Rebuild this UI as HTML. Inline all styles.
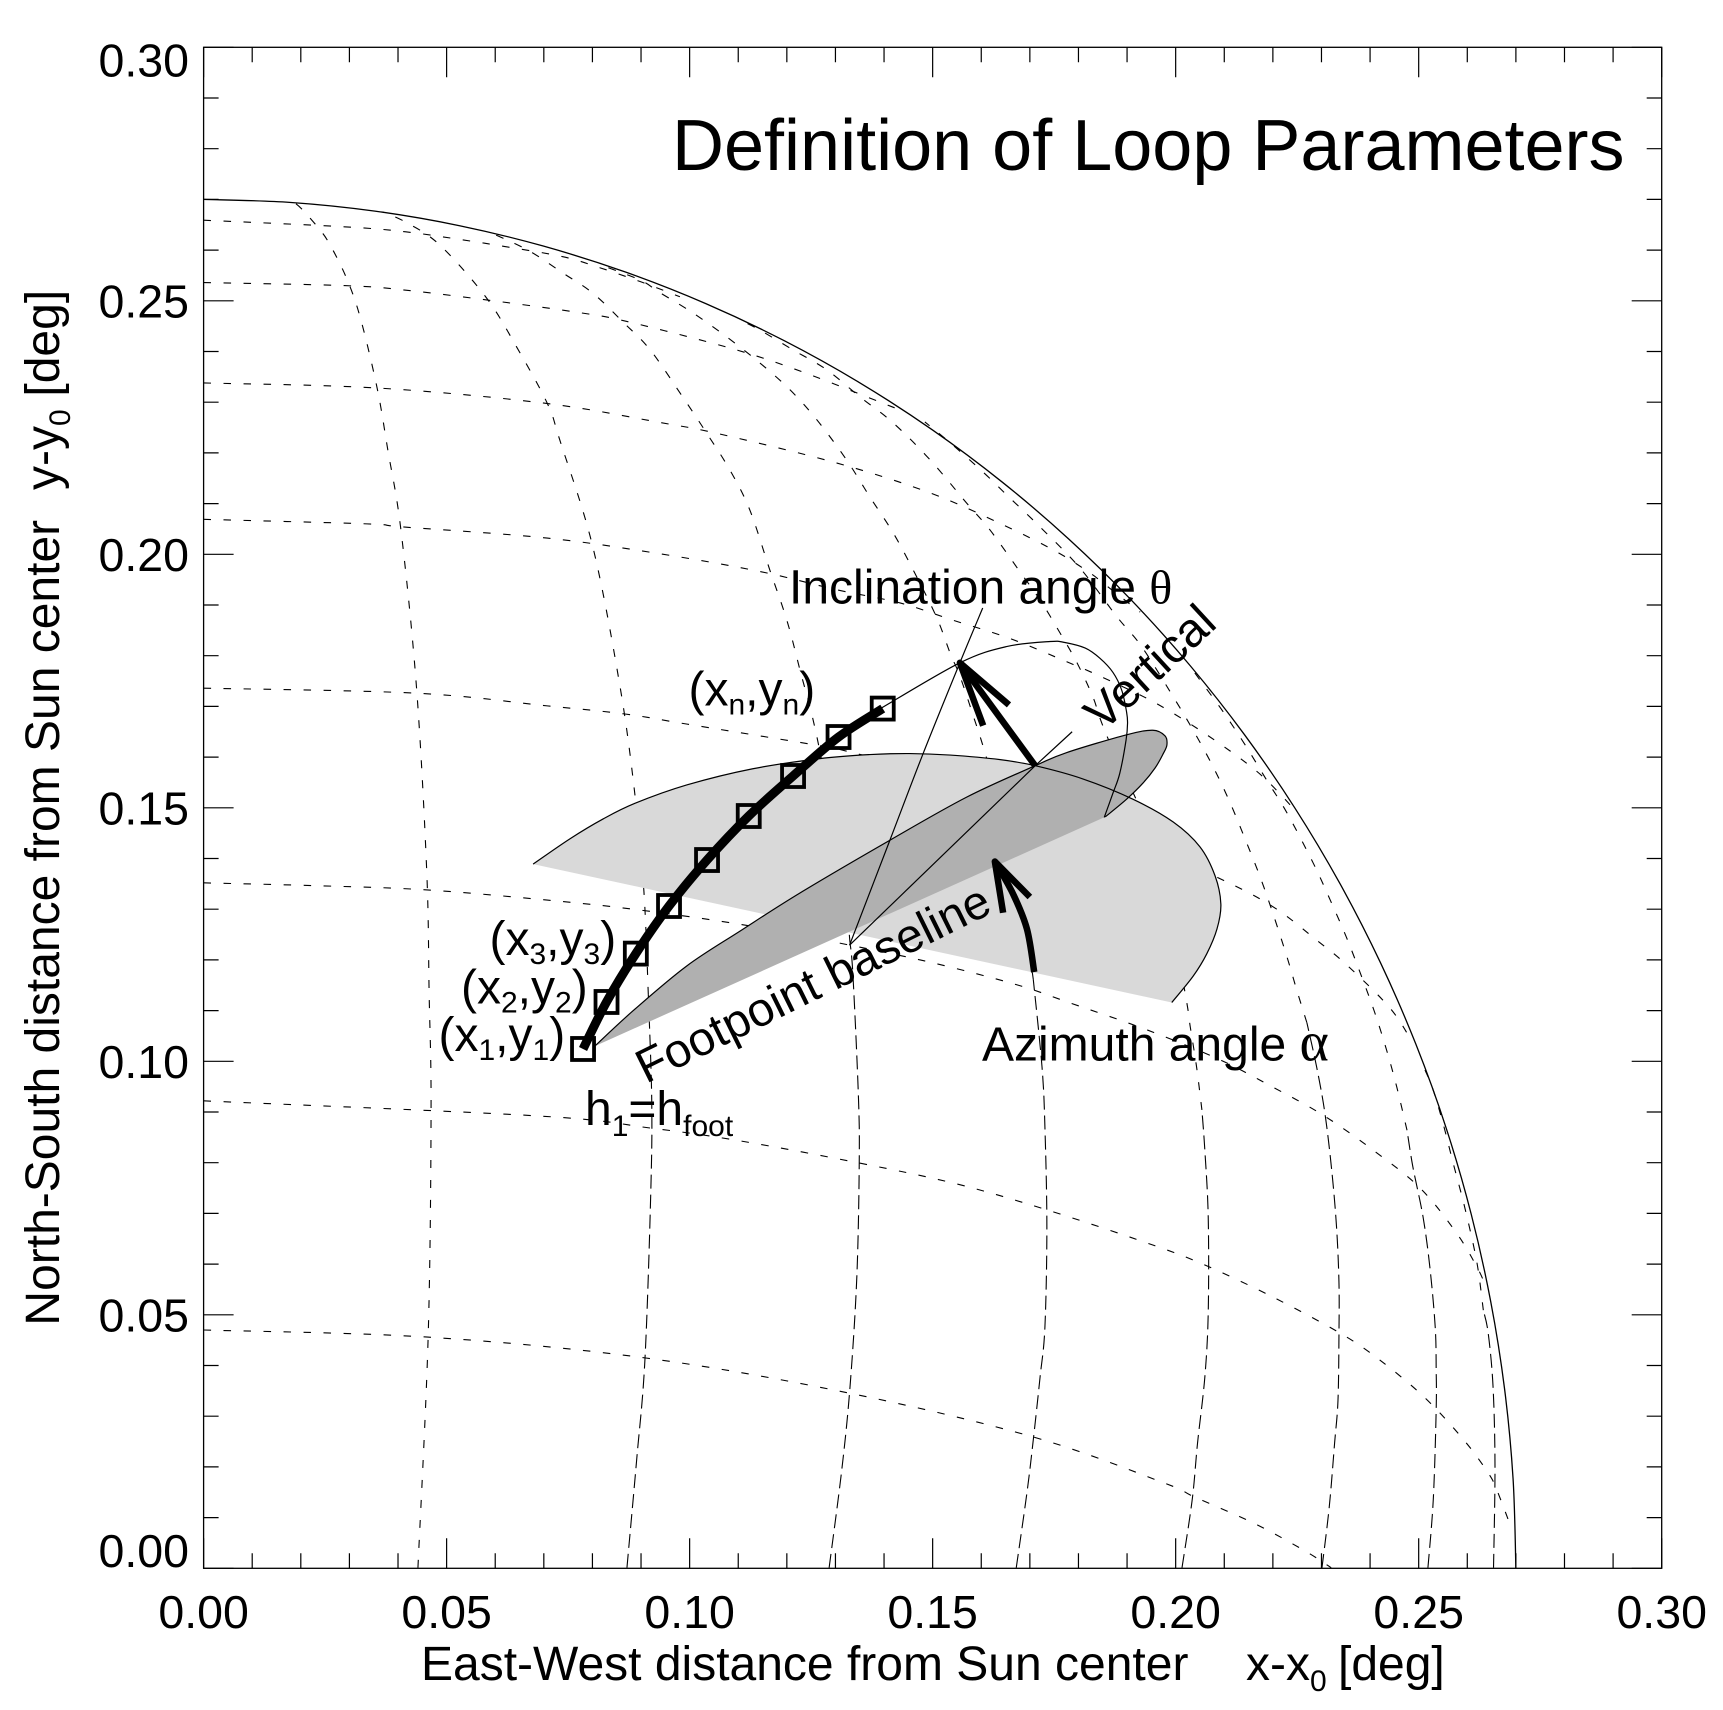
<!DOCTYPE html>
<html lang="en">
<head>
<meta charset="utf-8">
<title>Definition of Loop Parameters</title>
<style>
html,body{margin:0;padding:0;background:#fff;}
svg{display:block;}
text{font-family:"Liberation Sans",sans-serif;fill:#000;}
.ann{font-size:48px;}
.tick{font-size:46.5px;}
.sym{font-family:"Liberation Serif",serif;}
</style>
</head>
<body>
<svg id="chart" width="1723" height="1710" viewBox="0 0 1723 1710" xmlns="http://www.w3.org/2000/svg">
<rect x="0" y="0" width="1723" height="1710" fill="#fff"/>
<g id="grid"></g>
<g id="surface"></g>
<g id="axes"></g>
<g id="loop"></g>

<text x="672" y="170" font-size="72">Definition of Loop Parameters</text>
<text y="1680" font-size="48"><tspan x="421">East-West distance from Sun center</tspan><tspan x="1246">x-x</tspan><tspan dy="11" font-size="30">0</tspan><tspan x="1338" dy="-11">[deg]</tspan></text>
<text transform="translate(59,1325.6) rotate(-90)" font-size="48"><tspan x="0" y="0">North-South distance from Sun center</tspan><tspan x="835.6">y-y</tspan><tspan dy="11" font-size="30">0</tspan><tspan x="929" dy="-11">[deg]</tspan></text>

<text class="ann" x="438.5" y="1051">(x<tspan dy="9" font-size="30">1</tspan><tspan dy="-9">,y</tspan><tspan dy="9" font-size="30">1</tspan><tspan dy="-9">)</tspan></text>
<text class="ann" x="461" y="1003.5">(x<tspan dy="9" font-size="30">2</tspan><tspan dy="-9">,y</tspan><tspan dy="9" font-size="30">2</tspan><tspan dy="-9">)</tspan></text>
<text class="ann" x="489.5" y="955">(x<tspan dy="9" font-size="30">3</tspan><tspan dy="-9">,y</tspan><tspan dy="9" font-size="30">3</tspan><tspan dy="-9">)</tspan></text>
<text class="ann" x="688.5" y="705.3">(x<tspan dy="9" font-size="30">n</tspan><tspan dy="-9">,y</tspan><tspan dy="9" font-size="30">n</tspan><tspan dy="-9">)</tspan></text>
<text class="ann" x="585" y="1125">h<tspan dy="11" font-size="30">1</tspan><tspan dy="-11">=h</tspan><tspan dy="11" font-size="30">foot</tspan></text>
<text class="ann" x="789" y="603.3">Inclination angle <tspan class="sym">θ</tspan></text>
<text class="ann" x="982" y="1060.5">Azimuth angle <tspan class="sym" font-size="56">α</tspan></text>
<text font-size="47.5" transform="translate(646,1084) rotate(-26.3)">Footpoint baseline</text>
<text class="ann" transform="translate(1103,732.5) rotate(-42.7)">Vertical</text>

<script>
// ---- axis domains and ticks ----
var xDomain = [0, 0.30];
var yDomain = [0, 0.30];
var xTickValues = [0.00, 0.05, 0.10, 0.15, 0.20, 0.25, 0.30];
var yTickValues = [0.00, 0.05, 0.10, 0.15, 0.20, 0.25, 0.30];
var xTickLabels = ["0.00", "0.05", "0.10", "0.15", "0.20", "0.25", "0.30"];
var yTickLabels = ["0.00", "0.05", "0.10", "0.15", "0.20", "0.25", "0.30"];
var minorTickStep = 0.01;

// ---- solar limb ----
var limbX = [0,.01766,.03524,.05267,.06988,.08679,.10333,.11942,.135,.15,.16437,.17802,.19092,.203,.2142,.2245,.23383,.24215,.24944,.25567,.2608,.26481,.26769,.26942,.27];
var limbY = [.27,.26942,.26769,.26481,.2608,.25567,.24944,.24215,.23383,.2245,.2142,.203,.19092,.17802,.16437,.15,.135,.11942,.10333,.08679,.06988,.05267,.03524,.01766,0];

// ---- meridians ----
var m1X = [.0441,.0462,.0468,.0464,.0459,.0438,.0406,.0379,.0357,.0322,.0293,.0258,.0235,.0202,.0185];
var m1Y = [.0001,.0456,.09,.1135,.1377,.1738,.2048,.2206,.2328,.2468,.2547,.2614,.2645,.2681,.2695];
var m2X = [.0871,.0891,.0908,.092,.0922,.0915,.0906,.0888,.0857,.0801,.0733,.0707,.0644,.0581,.0486,.0416,.0369];
var m2Y = [.0001,.0214,.0411,.074,.0924,.1131,.1334,.1521,.1738,.2014,.2225,.2298,.2409,.2507,.261,.2655,.2675];
var m3X = [.1287,.1313,.133,.1344,.1349,.1347,.1336,.133,.1316,.1264,.1227,.12,.1165,.1124,.1083,.1035,.0986,.0919,.0863,.0801,.0739,.0667,.0589];
var m3Y = [.0001,.0194,.0358,.0575,.0805,.0938,.117,.1234,.1357,.163,.1772,.187,.1969,.2087,.2166,.2239,.231,.2403,.2458,.2515,.2555,.26,.2635];
var m4X = [.1672,.1694,.1707,.1721,.1731,.1735,.1731,.1725,.1707,.167,.1611,.1583,.1556,.1536,.1508,.146,.1419,.1371,.1323,.1262,.1207,.1145,.1076,.1007,.0939,.0898,.0816];
var m4Y = [.0001,.0149,.0253,.0377,.0476,.0673,.087,.0989,.1162,.1397,.1598,.1683,.176,.1805,.1876,.1969,.2042,.2113,.2186,.2265,.2324,.2377,.2429,.2476,.2516,.2541,.2571];
var m5X = [.2013,.2034,.2045,.206,.2067,.2067,.206,.2054,.2043,.203,.2019,.1968,.1858,.183,.1797,.1762,.1721,.168,.1618,.157,.1495,.1419,.1351,.1282,.1213,.1145,.1104];
var m5Y = [.0001,.0135,.0247,.0377,.0504,.0693,.0825,.0904,.0989,.1068,.1137,.1397,.1643,.1718,.1786,.1845,.191,.1965,.2048,.2101,.2186,.2259,.231,.2364,.2403,.2442,.2462];
var m6X = [.2301,.2316,.2327,.2334,.2336,.2336,.2331,.2321,.2307,.229,.227,.2249,.2229,.22,.2174,.2146,.2112,.2077,.2036,.1995,.193,.1879,.1803,.1721,.1659,.1604,.1536,.1484];
var m6Y = [.0001,.0121,.0247,.0332,.0464,.0563,.0673,.0786,.0898,.0989,.1076,.1141,.1206,.1292,.1363,.1431,.151,.1581,.1653,.1719,.1818,.1877,.1973,.2054,.2111,.2162,.222,.2261];
var m7X = [.2519,.253,.2536,.2536,.2534,.2523,.2509,.2488,.2476,.2455,.2434,.241,.2383,.2352,.2318,.2283,.2229,.2187,.2143,.2098,.205,.203];
var m7Y = [.0001,.0135,.0312,.0391,.0476,.0594,.0693,.0792,.0864,.0949,.1022,.1095,.1166,.1243,.1318,.1391,.149,.1555,.1624,.1689,.1752,.1779];
var m8X = [.2654,.2657,.2653,.2643,.2633,.262,.2596,.2571,.255,.253,.2513];
var m8Y = [.0001,.02,.0358,.0464,.0509,.0602,.0707,.0799,.0878,.0943,.0983];

// ---- parallels ----
var p1X = [0,.0461,.0908,.1326,.1707,.1977,.2038,.2165,.227,.232];
var p1Y = [.047,.0456,.0415,.0346,.0259,.0168,.0141,.0087,.0032,.0001];
var p2X = [0,.0692,.0922,.1104,.1351,.155,.1735,.194,.2056,.22,.2338,.2417,.2511,.2593,.2643,.2661,.2692];
var p2Y = [.0922,.0892,.0868,.0843,.0799,.0758,.0707,.0642,.06,.0535,.0464,.0413,.0338,.0253,.0188,.0154,.0076];
var p3X = [0,.0246,.046,.0707,.0892,.1118,.133,.1501,.1673,.1783,.1941,.2091,.22,.2303,.2406,.2503,.2578,.262,.2637];
var p3Y = [.1352,.1346,.1338,.1318,.1299,.1268,.1229,.1194,.1151,.1115,.1062,.1003,.0949,.0894,.0825,.075,.0661,.0594,.0559];
var p4X = [0,.0439,.0707,.0867,.0995,.1264,.133,.1639,.1844,.2085,.22,.229,.2352,.2441,.2488];
var p4Y = [.1736,.1726,.1701,.1685,.1665,.1623,.161,.1535,.1466,.1363,.1305,.1239,.119,.1105,.1036];
var p5X = [0,.0336,.041,.0707,.0939,.1145,.1303,.1433,.1542,.1659,.1776,.1848,.1958,.2064,.2163,.2221,.2249];
var p5Y = [.2069,.206,.2054,.2032,.2001,.1966,.193,.1904,.187,.1834,.1788,.1758,.1707,.1644,.1575,.1521,.149];
var p6X = [0,.0357,.0702,.0939,.1063,.1303,.1495,.1645,.1755,.1824,.1851,.1927];
var p6Y = [.2338,.2328,.2298,.226,.2237,.218,.2121,.2058,.2005,.1963,.1943,.1886];
var p7X = [0,.0289,.0416,.0612,.0778,.0863,.1021,.1138,.1254,.1371,.1443];
var p7Y = [.2536,.253,.2521,.2498,.2476,.2461,.2423,.2391,.2352,.2308,.2281];
var p8X = [0,.0289,.0416,.0534,.062,.0739,.0816,.0898,.098];
var p8Y = [.2659,.2646,.2636,.262,.2607,.2587,.2565,.2538,.2508];

// ---- shaded planes ----
var azimuthPlaneX = [.0678,.0754,.0822,.0888,.0994,.113,.1268,.1371,.1453,.1536,.1639,.1711,.1809,.1912,.1995,.205,.2081,.2093,.2085,.2064,.2036,.1992];
var azimuthPlaneY = [.1389,.1439,.1478,.1509,.1545,.1577,.1597,.1605,.1607,.1604,.1595,.1583,.1557,.1517,.1472,.1423,.1366,.131,.1261,.1212,.1168,.1116];
var loopPlaneX = [.0805,.0884,.0994,.1104,.1227,.1412,.157,.1711,.1776,.1899,.1953,.1978,.1982,.1974,.1958,.1933,.1899,.1855];
var loopPlaneY = [.103,.11,.1188,.1257,.1332,.1436,.1521,.1583,.1609,.1644,.1653,.1642,.1624,.1606,.1579,.1549,.1517,.1482];

// ---- loop ----
var loopPointsX = [.07807,.0829,.08893,.09576,.10358,.11216,.12128,.13064,.13973];
var loopPointsY = [.10243,.1117,.12124,.13063,.1397,.14838,.15627,.16396,.16957];
var loopBackX = [.1395,.1556,.1652,.1742,.1772,.1814,.1844,.1871,.1889,.1899,.1901,.1898,.1885,.1871,.1853];
var loopBackY = [.1697,.1786,.1818,.1828,.1826,.1815,.1795,.1767,.1732,.1689,.1667,.1634,.1568,.1529,.1481];

// ---- construction lines and arrows ----
var inclinationLineX = [.1329,.1412,.148,.1556,.1603];
var inclinationLineY = [.1229,.1436,.1606,.1786,.1894];
var verticalLineX = [.1329,.1711,.1787];
var verticalLineY = [.1229,.1583,.165];
var inclinationArrowX = [.1711,.1556];
var inclinationArrowY = [.1583,.1786];
var inclinationHeadX = [.1604,.1556,.1657];
var inclinationHeadY = [.1662,.1786,.1703];
var azimuthArrowX = [.1709,.1694,.1665,.1628];
var azimuthArrowY = [.1176,.1261,.1331,.1394];
var azimuthHeadX = [.1645,.1628,.17];
var azimuthHeadY = [.1293,.1394,.1324];

// ---- axis functions ----
var plotLeft = 203.6, plotRight = 1661.7, plotTop = 47.3, plotBottom = 1568.3;
function sx(v){ return plotLeft + (v - xDomain[0]) / (xDomain[1] - xDomain[0]) * (plotRight - plotLeft); }
function sy(v){ return plotBottom - (v - yDomain[0]) / (yDomain[1] - yDomain[0]) * (plotBottom - plotTop); }

var NS = 'http://www.w3.org/2000/svg';
function make(tag, parent, attrs){
  var el = document.createElementNS(NS, tag);
  for (var k in attrs) el.setAttribute(k, attrs[k]);
  parent.appendChild(el);
  return el;
}
function toPts(xs, ys){
  var out = [];
  for (var i = 0; i < xs.length; i++) out.push([sx(xs[i]), sy(ys[i])]);
  return out;
}
function smooth(xs, ys){
  var p = toPts(xs, ys);
  var d = 'M' + p[0][0].toFixed(2) + ' ' + p[0][1].toFixed(2);
  for (var i = 0; i < p.length - 1; i++){
    var a = p[i > 0 ? i - 1 : i], b = p[i], c = p[i + 1], e = p[i + 2 < p.length ? i + 2 : i + 1];
    d += 'C' + (b[0] + (c[0] - a[0]) / 6).toFixed(2) + ' ' + (b[1] + (c[1] - a[1]) / 6).toFixed(2) + ' ' +
         (c[0] - (e[0] - b[0]) / 6).toFixed(2) + ' ' + (c[1] - (e[1] - b[1]) / 6).toFixed(2) + ' ' +
         c[0].toFixed(2) + ' ' + c[1].toFixed(2);
  }
  return d;
}
function straight(xs, ys){
  var p = toPts(xs, ys), d = '';
  for (var i = 0; i < p.length; i++) d += (i ? 'L' : 'M') + p[i][0].toFixed(2) + ' ' + p[i][1].toFixed(2);
  return d;
}

// ---- grid ----
var gridLayer = document.getElementById('grid');
var LONG_DASH = '14 6';
var SHORT_DASH = '8 12';
var meridianSeries = [
  [m1X,m1Y,'meridian-1',0],[m2X,m2Y,'meridian-2',.10],[m3X,m3Y,'meridian-3',.12],[m4X,m4Y,'meridian-4',.11],
  [m5X,m5Y,'meridian-5',.09],[m6X,m6Y,'meridian-6',.10],[m7X,m7Y,'meridian-7',.08],[m8X,m8Y,'meridian-8',.05]
];
meridianSeries.forEach(function(s){
  var cut = 0;
  while (cut < s[1].length - 1 && s[1][cut] < s[3]) cut++;
  if (cut > 0){
    var low = make('path', gridLayer, {d: smooth(s[0].slice(0, cut + 1), s[1].slice(0, cut + 1)), fill: 'none', stroke: '#000', 'stroke-width': 1.1, 'stroke-dasharray': LONG_DASH});
    
    
  }
  var up = make('path', gridLayer, {d: smooth(s[0].slice(cut), s[1].slice(cut)), fill: 'none', stroke: '#000', 'stroke-width': 1.1, 'stroke-dasharray': SHORT_DASH});
  
  
});
var parallelSeries = [
  [p1X,p1Y,'parallel-1'],[p2X,p2Y,'parallel-2'],[p3X,p3Y,'parallel-3'],[p4X,p4Y,'parallel-4'],
  [p5X,p5Y,'parallel-5'],[p6X,p6Y,'parallel-6'],[p7X,p7Y,'parallel-7'],[p8X,p8Y,'parallel-8']
];
parallelSeries.forEach(function(s){
  var path = make('path', gridLayer, {d: smooth(s[0], s[1]), fill: 'none', stroke: '#000', 'stroke-width': 1.1, 'stroke-dasharray': '7.5 12.5'});
  
  
});
var limbPath = make('path', gridLayer, {d: smooth(limbX, limbY), fill: 'none', stroke: '#000', 'stroke-width': 1.3});



// ---- planes ----
var surface = document.getElementById('surface');
var azFill = make('path', surface, {d: smooth(azimuthPlaneX, azimuthPlaneY) + 'Z', fill: '#d9d9d9', stroke: 'none'});


var lpFill = make('path', surface, {d: smooth(loopPlaneX, loopPlaneY) + 'Z', fill: '#b0b0b0', stroke: 'none'});


var lpEdge = make('path', surface, {d: smooth(loopPlaneX, loopPlaneY), fill: 'none', stroke: '#000', 'stroke-width': 1.2});


var azEdge = make('path', surface, {d: smooth(azimuthPlaneX, azimuthPlaneY), fill: 'none', stroke: '#000', 'stroke-width': 1.2});



// ---- axes ----
var axes = document.getElementById('axes');
var frame = make('rect', axes, {x: plotLeft, y: plotTop, width: plotRight - plotLeft, height: plotBottom - plotTop, fill: 'none', stroke: '#000', 'stroke-width': 1.3});


var minorCount = Math.round((xDomain[1] - xDomain[0]) / minorTickStep);
for (var i = 0; i <= minorCount; i++){
  var val = i * minorTickStep;
  var len = (i % 5 === 0) ? 30 : 15;
  var d = 'M' + sx(val) + ' ' + plotBottom + 'v' + (-len) + 'M' + sx(val) + ' ' + plotTop + 'v' + len +
          'M' + plotLeft + ' ' + sy(val) + 'h' + len + 'M' + plotRight + ' ' + sy(val) + 'h' + (-len);
  var tk = make('path', axes, {d: d, fill: 'none', stroke: '#000', 'stroke-width': 1.2});
  
  
}
xTickValues.forEach(function(v, i){
  var t = make('text', axes, {x: sx(v), y: 1628, 'text-anchor': 'middle', 'class': 'tick'});
  t.textContent = xTickLabels[i];
  
  
});
yTickValues.forEach(function(v, i){
  var base = sy(v) + 16.7;
  if (i === 0) base = plotBottom - 1.3;
  if (i === yTickValues.length - 1) base = plotTop + 29.2;
  var t = make('text', axes, {x: 189, y: base, 'text-anchor': 'end', 'class': 'tick'});
  t.textContent = yTickLabels[i];
  
  
});

// ---- loop geometry ----
var loopLayer = document.getElementById('loop');
var back = make('path', loopLayer, {d: smooth(loopBackX, loopBackY), fill: 'none', stroke: '#000', 'stroke-width': 1.2});


var incl = make('path', loopLayer, {d: smooth(inclinationLineX, inclinationLineY), fill: 'none', stroke: '#000', 'stroke-width': 1.2});


var vert = make('path', loopLayer, {d: straight(verticalLineX, verticalLineY), fill: 'none', stroke: '#000', 'stroke-width': 1.2});



var thick = make('path', loopLayer, {d: smooth(loopPointsX, loopPointsY), fill: 'none', stroke: '#000', 'stroke-width': 9, 'stroke-linejoin': 'round'});


loopPointsX.forEach(function(v, i){
  var s = make('rect', loopLayer, {x: sx(v) - 11, y: sy(loopPointsY[i]) - 11, width: 22, height: 22, fill: 'none', stroke: '#000', 'stroke-width': 3.8});
  
  
});

var a1 = make('path', loopLayer, {d: straight(inclinationArrowX, inclinationArrowY), fill: 'none', stroke: '#000', 'stroke-width': 6.5});


var a1h = make('path', loopLayer, {d: straight(inclinationHeadX, inclinationHeadY), fill: 'none', stroke: '#000', 'stroke-width': 6.5, 'stroke-linejoin': 'round'});


var a2 = make('path', loopLayer, {d: smooth(azimuthArrowX, azimuthArrowY), fill: 'none', stroke: '#000', 'stroke-width': 6.5});


var a2h = make('path', loopLayer, {d: straight(azimuthHeadX, azimuthHeadY), fill: 'none', stroke: '#000', 'stroke-width': 6.5, 'stroke-linejoin': 'round'});


</script>
</svg>
</body>
</html>
